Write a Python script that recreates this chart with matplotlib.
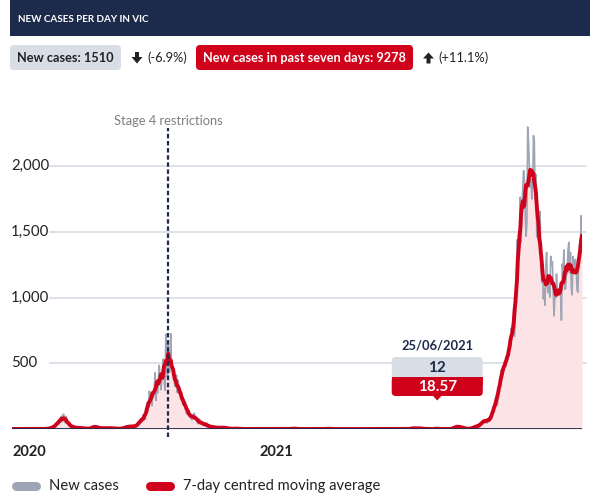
import numpy as np
import pandas as pd
import matplotlib
matplotlib.use("Agg")
import matplotlib.pyplot as plt
import matplotlib.dates as mdates
from matplotlib.patches import FancyBboxPatch, Polygon
from matplotlib.lines import Line2D
from matplotlib.transforms import Affine2D, blended_transform_factory

# ---------------- data (daily new cases, VIC) ----------------
start_date = "2020-01-25"
v2020_01 = [1, 0, 0, 0, 1, 0, 0]
v2020_02 = [1, 0, 0, 0, 0, 0, 0, 0, 0, 0, 0, 0, 0, 0, 0, 0, 0, 0, 0, 0, 0, 0, 0, 0, 0, 0, 0, 0, 1]
v2020_03 = [2, 1, 0, 1, 1, 1, 0, 1, 3, 4, 3, 6, 9, 13, 14, 14, 23, 27, 27, 49,
            50, 67, 56, 55, 96, 54, 111, 111, 56, 48, 96]
v2020_04 = [51, 46, 43, 30, 19, 23, 19, 10, 12, 20, 7, 13, 8, 4, 5, 11, 17, 2, 6, 6,
            3, 3, 10, 4, 1, 5, 1, 3, 2, 3]
v2020_05 = [13, 9, 17, 22, 17, 14, 21, 14, 7, 8, 5, 8, 8, 8, 5, 6, 7, 7, 4, 6,
            5, 10, 6, 6, 4, 8, 3, 7, 6, 4, 4]
v2020_06 = [1, 3, 1, 2, 5, 2, 4, 3, 8, 9, 8, 21, 19, 12, 16, 21, 18, 21, 13, 25,
            25, 17, 20, 16, 33, 30, 41, 49, 75, 64]
v2020_07 = [73, 77, 66, 108, 74, 127, 191, 134, 165, 288, 216, 273, 177, 270, 238, 317, 428, 217, 363, 275,
            374, 484, 403, 300, 357, 459, 532, 384, 295, 723, 627]
v2020_08 = [397, 671, 429, 439, 725, 471, 450, 466, 394, 322, 331, 410, 278, 372, 303, 279, 282, 222, 216, 240,
            179, 182, 208, 116, 148, 149, 113, 94, 114, 73, 70]
v2020_09 = [90, 119, 113, 81, 76, 63, 41, 55, 76, 51, 43, 41, 35, 42, 28, 45, 28, 45, 21, 14,
            11, 28, 15, 14, 12, 21, 16, 5, 10, 15]
v2020_10 = [8, 11, 8, 12, 8, 7, 13, 10, 11, 12, 15, 4, 1, 9, 2, 2, 2, 1, 4, 1,
            3, 1, 4, 7, 0, 3, 5, 0, 2, 0, 0]
v2020_11 = [0, 0, 0, 2, 0, 0, 0, 0, 0, 0, 0, 0, 0, 0, 0, 0, 0, 0, 0, 0,
            0, 0, 0, 0, 0, 0, 0, 0, 0, 0]
v2020_12 = [0, 0, 0, 0, 0, 0, 0, 0, 0, 0, 0, 0, 0, 0, 0, 0, 0, 0, 0, 0,
            0, 0, 0, 0, 0, 0, 0, 0, 0, 1, 3]
v2021_01 = [3, 10, 3, 1, 0, 0, 0, 1, 0, 0, 0, 0, 0, 0, 0, 0, 0, 0, 0, 0,
            0, 0, 0, 0, 0, 0, 0, 0, 0, 0, 0]
v2021_02 = [0, 0, 3, 0, 0, 0, 0, 0, 0, 1, 0, 3, 5, 2, 1, 1, 2, 0, 0, 0,
            0, 0, 0, 0, 0, 0, 0, 0]
v2021_03 = [0, 0, 0, 0, 0, 0, 0, 0, 0, 0, 0, 0, 0, 0, 0, 0, 0, 0, 0, 0,
            0, 0, 0, 0, 0, 0, 0, 0, 0, 0, 0]
v2021_04 = [0, 0, 0, 0, 0, 0, 0, 0, 0, 0, 0, 0, 0, 0, 0, 0, 0, 0, 0, 0,
            0, 0, 0, 0, 0, 0, 0, 0, 0, 0]
v2021_05 = [0, 0, 0, 0, 0, 0, 0, 0, 0, 0, 0, 0, 0, 0, 0, 0, 0, 0, 0, 0,
            0, 0, 0, 1, 4, 6, 12, 6, 5, 3, 4]
v2021_06 = [6, 3, 9, 4, 11, 1, 2, 1, 2, 1, 3, 0, 1, 0, 1, 0, 0, 0, 0, 0,
            0, 0, 0, 1, 12, 0, 1, 0, 0, 0]
v2021_07 = [0, 0, 0, 0, 0, 0, 0, 0, 0, 0, 0, 0, 2, 2, 8, 10, 19, 16, 13, 22,
            26, 12, 14, 12, 11, 10, 10, 9, 3, 2, 1]
v2021_08 = [1, 0, 2, 6, 6, 6, 6, 4, 11, 21, 21, 25, 21, 24, 22, 25, 24, 57, 55, 62,
            61, 65, 71, 50, 45, 79, 64, 92, 73, 76, 120]
v2021_09 = [120, 176, 208, 190, 246, 183, 246, 324, 334, 392, 450, 392, 473, 445, 514, 510, 535, 507, 567, 583,
            603, 628, 766, 733, 847, 779, 705, 867, 950, 1438]
v2021_10 = [1143, 1488, 1377, 1763, 1420, 1638, 1838, 1965, 1890, 1612, 1466, 1571, 2297, 2179, 1993, 1838, 1903, 1749, 1841, 2232,
            2189, 1750, 1935, 1461, 1510, 1510, 1534, 1656, 1355, 1115, 1221]
v2021_11 = [989, 1069, 941, 1247, 1343, 1069, 1035, 1126, 1003, 1313, 1247, 1273, 1051, 860, 1007, 996, 1179, 1037, 1034, 1029,
            1071, 1029, 827, 1254, 1193, 1362, 1061, 1069, 1185, 1179]
v2021_12 = [1365, 1419, 1188, 1343, 1073, 1020, 1312, 1232, 1206, 1290, 1218, 1055, 1041, 1290, 1405, 1355, 1622, 1510]

months = [v2020_01, v2020_02, v2020_03, v2020_04, v2020_05, v2020_06, v2020_07, v2020_08,
          v2020_09, v2020_10, v2020_11, v2020_12, v2021_01, v2021_02, v2021_03, v2021_04,
          v2021_05, v2021_06, v2021_07, v2021_08, v2021_09, v2021_10, v2021_11, v2021_12]
cases = pd.Series(np.concatenate([np.array(m, dtype=float) for m in months]))
dates = pd.date_range(start_date, periods=len(cases), freq="D")
avg7 = cases.rolling(7, center=True, min_periods=1).mean()

y_ticks = [500, 1000, 1500, 2000]
y_tick_labels = ["500", "1,000", "1,500", "2,000"]
year_labels = ["2020", "2021"]
stage4_date = "2020-08-02"
tooltip_date = "2021-06-25"
tooltip_texts = ["25/06/2021", "12", "18.57"]
title = "NEW CASES PER DAY IN VIC"
badge1 = "New cases: 1510"
badge1_change = "(-6.9%)"
badge2 = "New cases in past seven days: 9278"
badge2_change = "(+11.1%)"
legend_labels = ["New cases", "7-day centred moving average"]

# ---------------- style ----------------
NAVY = "#1c2a4b"
RED = "#d0021b"
GREY_LINE = "#9ea6b6"
GREY_BOX = "#d9dee6"
PINK = "#fbe3e6"
GRID = "#d8dce3"
TXT = "#222222"

plt.rcParams["font.family"] = ["Lato", "DejaVu Sans"]

W, H = 601, 500
fig = plt.figure(figsize=(W / 100, H / 100), dpi=100)
fig.patch.set_facecolor("white")
PX = Affine2D().scale(1, -1).translate(0, H).scale(1 / fig.dpi) + fig.dpi_scale_trans
renderer = fig.canvas.get_renderer()


def fit_text(x, y, s, target_w, max_size, ha="left", **kw):
    """Place text in pixel coords, shrinking the font so its width matches target_w."""
    t = fig.text(x, y, s, transform=PX, ha=ha, va="center", fontsize=max_size, **kw)
    w = t.get_window_extent(renderer).width * 100 / fig.dpi
    if w > target_w:
        t.set_fontsize(max_size * target_w / w)
    return t


# ---------------- axes ----------------
x0, x1, ytop, ybase = 12, 582, 120, 429
ax = fig.add_axes([x0 / W, 1 - ybase / H, (x1 - x0) / W, (ybase - ytop) / H])
ax.set_facecolor("none")
ax.set_xlim(mdates.date2num(dates[0]), mdates.date2num(dates[-1]))
ax.set_ylim(0, (ybase - ytop) / 263 * 2000)
for s in ax.spines.values():
    s.set_visible(False)
ax.set_xticks([])
ax.set_yticks([])

gx0 = (50 - x0) / (x1 - x0)
gx1 = (586 - x0) / (x1 - x0)
for v in y_ticks:
    ax.axhline(v, xmin=gx0, xmax=gx1, color=GRID, lw=1.2, zorder=0, clip_on=False)
ylab_tr = blended_transform_factory(fig.transFigure, ax.transData)
for v, lab in zip(y_ticks, y_tick_labels):
    ax.text(11 / W, v, lab, transform=ylab_tr, ha="left", va="center", fontsize=10.8, color=TXT)

ax.fill_between(dates, 0, avg7, color=PINK, lw=0, zorder=1)
ax.plot(dates, cases, color=GREY_LINE, lw=1.2, zorder=2)
ax.plot(dates, avg7, color=RED, lw=2.8, zorder=3, solid_capstyle="round", solid_joinstyle="round")
ax.axhline(0, color=NAVY, lw=1.3, zorder=4)

# Stage 4 marker
s4 = pd.Timestamp(stage4_date)
ax.plot([s4, s4], [-62, 2290], color=NAVY, lw=1.6, ls=(0, (2.0, 1.2)), zorder=5, clip_on=False)
ax.text(s4, 2345, "Stage 4 restrictions", ha="center", va="center", fontsize=9.3,
        color="#7d7d7d", clip_on=False)

# Year labels
xl_tr = blended_transform_factory(ax.transData, fig.transFigure)
ax.text(mdates.date2num(dates[0]), 1 - 452 / H, year_labels[0], transform=xl_tr, ha="left",
        va="center", fontsize=10.5, fontweight="bold", color=TXT)
ax.text(mdates.date2num(pd.Timestamp("2021-01-01")), 1 - 452 / H, year_labels[1], transform=xl_tr,
        ha="right", va="center", fontsize=10.5, fontweight="bold", color=TXT)

# ---------------- header ----------------
fig.add_artist(plt.Rectangle((10, 0), 580, 36, transform=PX, color=NAVY, lw=0))
fit_text(18, 19, title, 132, 9.5, color="white", fontweight="bold")


def badge(xa, xb, ya, yb, color):
    fig.add_artist(FancyBboxPatch((xa, ya), xb - xa, yb - ya, boxstyle="round,pad=0,rounding_size=4",
                                  transform=PX, color=color, lw=0))


badge(10, 121, 45, 70, GREY_BOX)
fit_text(65.5, 58, badge1, 96, 11.5, ha="center", fontweight="bold", color=TXT)
# down arrow
fig.add_artist(Polygon([(135, 52), (139, 52), (139, 57), (142.5, 57), (137, 63.5), (131.5, 57), (135, 57)],
                       closed=True, transform=PX, color=TXT, lw=0))
fit_text(147, 58, badge1_change, 40, 11.5, color=TXT)

badge(196, 413, 45, 70, RED)
fit_text(304.5, 58, badge2, 203, 11.5, ha="center", fontweight="bold", color="white")
# up arrow
fig.add_artist(Polygon([(426.5, 63.5), (430.5, 63.5), (430.5, 58.5), (434, 58.5), (428.5, 52.5), (423, 58.5), (426.5, 58.5)],
                       closed=True, transform=PX, color=TXT, lw=0))
fit_text(438, 58, badge2_change, 50, 11.5, color=TXT)

# ---------------- tooltip ----------------
tx_disp = ax.transData.transform((mdates.date2num(pd.Timestamp(tooltip_date)), 0))[0]
tx = tx_disp / fig.dpi * 100
bw = 91
fig.text(tx, 346, tooltip_texts[0], transform=PX, ha="center", va="center", fontsize=9.3,
         fontweight="bold", color=NAVY)
fig.add_artist(FancyBboxPatch((tx - bw / 2, 357), bw, 39, boxstyle="round,pad=0,rounding_size=4",
                              transform=PX, color=GREY_BOX, lw=0))
fig.add_artist(FancyBboxPatch((tx - bw / 2, 377), bw, 19, boxstyle="round,pad=0,rounding_size=4",
                              transform=PX, color=RED, lw=0))
fig.add_artist(plt.Rectangle((tx - bw / 2, 377), bw, 8, transform=PX, color=RED, lw=0))
fig.add_artist(Polygon([(tx - 5, 395), (tx + 5, 395), (tx, 400.5)], closed=True, transform=PX,
                       color=RED, lw=0))
fig.text(tx, 367.5, tooltip_texts[1], transform=PX, ha="center", va="center", fontsize=11,
         fontweight="bold", color=NAVY)
fig.text(tx, 387, tooltip_texts[2], transform=PX, ha="center", va="center", fontsize=11,
         fontweight="bold", color="white")

# ---------------- legend ----------------
fig.add_artist(Line2D([16, 36], [486, 486], transform=PX, color=GREY_LINE, lw=6.5, solid_capstyle="round"))
fig.text(49, 486, legend_labels[0], transform=PX, ha="left", va="center", fontsize=10.6, color=TXT)
fig.add_artist(Line2D([150, 170], [486, 486], transform=PX, color=RED, lw=6.5, solid_capstyle="round"))
fig.text(183, 486, legend_labels[1], transform=PX, ha="left", va="center", fontsize=10.6, color=TXT)

fig.savefig("out.png", dpi=100, facecolor="white")
